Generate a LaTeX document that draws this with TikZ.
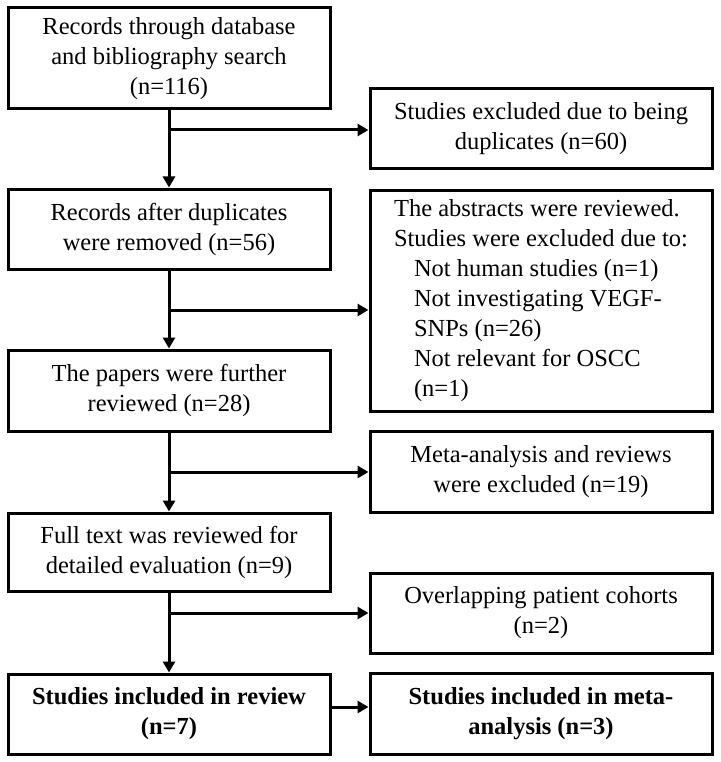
\documentclass[tikz,border=0pt]{standalone}
\usepackage{fontspec}
\setmainfont{Liberation Serif}
\usetikzlibrary{arrows.meta}

\begin{document}
\begin{tikzpicture}[x=1pt,y=-1pt,
  box/.style={draw,line width=3pt,inner sep=0pt,align=center,font=\fontsize{24.5}{30}\selectfont},
  lbox/.style={box,minimum width=322pt},
  rbox/.style={box,minimum width=342pt},
  link/.style={line width=3pt,-{Triangle[length=11pt,width=12pt]}}]
\useasboundingbox (0,0) rectangle (720,762);

% left column
\node[lbox,minimum height=101pt] (rec) at (169,58.5) {Records through database\\and bibliography search\\(n=116)};
\node[lbox,minimum height=80pt] (dedup) at (169,229) {Records after duplicates\\were removed (n=56)};
\node[lbox,minimum height=81pt] (papers) at (169,390.5) {The papers were further\\reviewed (n=28)};
\node[lbox,minimum height=78pt] (full) at (169,552) {Full text was reviewed for\\detailed evaluation (n=9)};
\node[lbox,minimum height=80pt,font=\fontsize{24.5}{30}\selectfont\bfseries] (incl) at (169,714) {Studies included in review\\(n=7)};

% right column
\node[rbox,minimum height=221pt,align=left] (abstr) at (541,300.5) {The abstracts were reviewed.\\Studies were excluded due to:\\
\hspace*{20pt}Not human studies (n=1)\\\hspace*{20pt}Not investigating VEGF-\\\hspace*{20pt}SNPs (n=26)\\
\hspace*{20pt}Not relevant for OSCC\\\hspace*{20pt}(n=1)};
\node[rbox,minimum height=80pt] (dupl) at (541,129) {Studies excluded due to being\\duplicates (n=60)};
\node[rbox,minimum height=81pt] (meta) at (541,471.5) {Meta-analysis and reviews\\were excluded (n=19)};
\node[rbox,minimum height=80pt] (overlap) at (541,613) {Overlapping patient cohorts\\(n=2)};
\node[rbox,minimum height=81pt,font=\fontsize{24.5}{30}\selectfont\bfseries] (metaincl) at (541,713.5) {Studies included in meta-\\analysis (n=3)};

% branch points
\coordinate (b1) at (169,130);
\coordinate (b2) at (169,310);
\coordinate (b3) at (169,472);
\coordinate (b4) at (169,613);

\draw[link] (rec) -- (dedup);
\draw[link] (dedup) -- (papers);
\draw[link] (papers) -- (full);
\draw[link] (full) -- (incl);
\draw[link] (b1) -- (b1 -| dupl.west);
\draw[link] (b2) -- (b2 -| abstr.west);
\draw[link] (b3) -- (b3 -| meta.west);
\draw[link] (b4) -- (b4 -| overlap.west);
\draw[link] ([yshift=7pt]incl.east) -- ([yshift=7pt]incl.east -| metaincl.west);
\end{tikzpicture}
\end{document}
